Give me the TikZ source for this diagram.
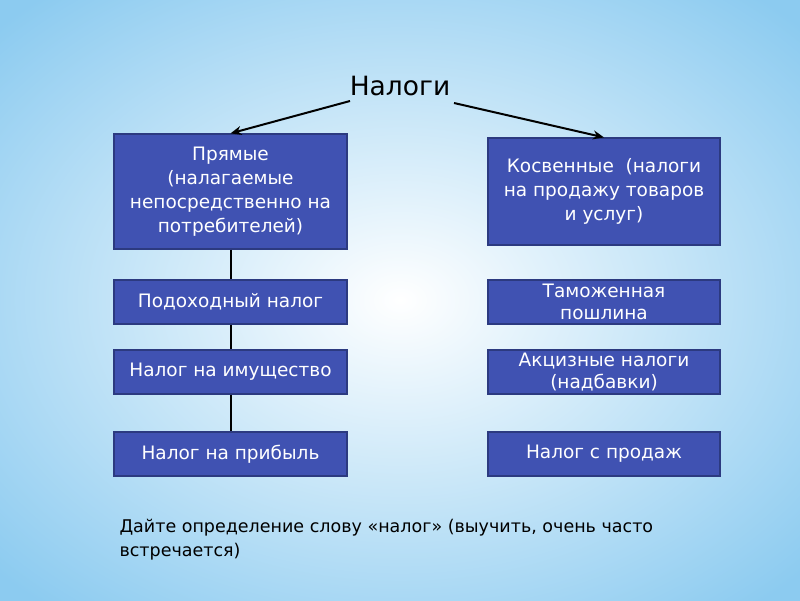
\documentclass[tikz,border=0pt]{standalone}
\usepackage{fontspec}
\setmainfont{DejaVu Sans}
\usetikzlibrary{arrows.meta}
\definecolor{boxfill}{HTML}{4052B2}
\definecolor{boxline}{HTML}{2C3A80}
\definecolor{bgblue}{HTML}{8CCBF0}
\tikzset{
  taxbox/.style={draw=boxline, line width=1.2pt, fill=boxfill, text=white, align=center, font=\fontsize{18.5}{24}\selectfont, inner sep=1pt},
  conn/.style={draw=black, line width=2pt},
  arr/.style={draw=black, line width=2pt, -{Stealth[length=11pt,width=9pt]}}
}
\begin{document}
\begin{tikzpicture}[x=1pt,y=-1pt]
\useasboundingbox (0,0) rectangle (800,600);
\shade[inner color=white, outer color=bgblue] (-150,-100) rectangle (950,700);
\node (top) at (400,86) {\fontsize{26.5}{30}\selectfont Налоги};
\node[taxbox, minimum width=233pt, minimum height=115pt] (L0) at (230.5,191.5) {Прямые\\(налагаемые\\непосредственно на\\потребителей)};
\node[taxbox, minimum width=232pt, minimum height=107pt] (R0) at (604,191.5) {Косвенные\ \ (налоги\\на продажу товаров\\и услуг)};
\node[taxbox, minimum width=233pt, minimum height=44pt] (L1) at (230.5,302) {Подоходный налог};
\node[taxbox, minimum width=233pt, minimum height=44pt] (L2) at (230.5,372) {Налог на имущество};
\node[taxbox, minimum width=233pt, minimum height=44pt] (L3) at (230.5,454) {Налог на прибыль};
\node[taxbox, minimum width=232pt, minimum height=44pt, font=\fontsize{18.5}{22}\selectfont] (R1) at (604,302) {Таможенная\\пошлина};
\node[taxbox, minimum width=232pt, minimum height=44pt, font=\fontsize{18.5}{22}\selectfont] (R2) at (604,372) {Акцизные налоги\\(надбавки)};
\node[taxbox, minimum width=232pt, minimum height=44pt] (R3) at (604,454) {Налог с продаж};
\coordinate (a1) at (350,101);
\coordinate (a2) at (454,103);
\draw[arr] (a1) -- (L0.north);
\draw[arr] (a2) -- (R0.north);
\draw[conn] (L0.south) -- (L1.north);
\draw[conn] (L1.south) -- (L2.north);
\draw[conn] (L2.south) -- (L3.north);
\node[anchor=north west, align=left, font=\fontsize{17.5}{24}\selectfont] (note) at (116,516) {Дайте определение слову «налог» (выучить, очень часто\\встречается)};
\end{tikzpicture}
\end{document}
